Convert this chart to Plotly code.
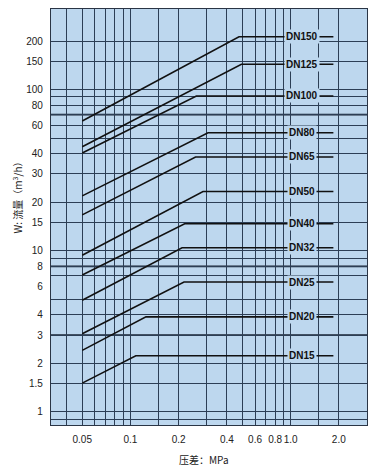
import math
import plotly.graph_objects as go

# ---- data ----
sizes = ["DN15", "DN20", "DN25", "DN32", "DN40", "DN50", "DN65", "DN80", "DN100", "DN125", "DN150"]
flow_start = [1.51, 2.41, 3.06, 4.93, 7.08, 9.38, 16.7, 21.9, 40.4, 44.2, 63.9]      # m3/h at 0.05 MPa
knee_dp = [0.108, 0.125, 0.216, 0.21, 0.218, 0.284, 0.255, 0.305, 0.258, 0.493, 0.476]  # MPa
flow_max = [2.23, 3.89, 6.4, 10.45, 14.7, 23.3, 38.2, 54.0, 91.3, 143.5, 212.9]     # m3/h
dp_start = 0.05
dp_end = 1.85
label_dp = 1.18

x_ticks = [0.05, 0.1, 0.2, 0.4, 0.6, 0.8, 1.0, 2.0]
x_ticktext = ["0.05", "0.1", "0.2", "0.4", "0.6", "0.8", "1.0", "2.0"]
y_ticks = [1, 1.5, 2, 3, 4, 6, 8, 10, 15, 20, 30, 40, 60, 80, 100, 150, 200]
y_ticktext = ["1", "1.5", "2", "3", "4", "6", "8", "10", "15", "20", "30", "40", "60", "80", "100", "150", "200"]

x_grid = [0.04, 0.05, 0.06, 0.07, 0.08, 0.09, 0.1, 0.15, 0.2, 0.3, 0.4, 0.5, 0.6, 0.7, 0.8, 0.9, 1.0, 1.5, 2.0]
y_grid = [0.9, 1, 1.5, 2, 3, 4, 5, 7, 8, 9, 10, 15, 20, 30, 40, 50, 60, 70, 80, 90, 100, 150, 200]
y_dark = [70, 3, 8]

BG = "#BDD7EE"
GRID = "#2c3e55"

fig = go.Figure()
for name, f0, kx, fm in zip(sizes, flow_start, knee_dp, flow_max):
    fig.add_trace(go.Scatter(
        x=[dp_start, kx, dp_end], y=[f0, fm, fm], mode="lines",
        line=dict(color="#111111", width=1.6), name=name, showlegend=False,
        hoverinfo="skip"))
    fig.add_annotation(
        x=math.log10(label_dp), y=math.log10(fm), xref="x", yref="y",
        text="<b>%s</b>" % name, showarrow=False, bgcolor=BG, borderpad=1,
        font=dict(family="Liberation Sans, Arial", size=10, color="#111111"))

for v in y_dark:
    fig.add_shape(type="line", xref="paper", x0=0, x1=1, yref="y", y0=v, y1=v,
                  line=dict(color="#1a2535", width=1.8), layer="below")

fig.add_annotation(
    xref="paper", yref="paper", x=-0.106, y=0.553, xanchor="center", yanchor="middle",
    textangle=-90, text="W: 流量（m<sup>3</sup>/h）", showarrow=False,
    font=dict(family="Noto Sans CJK SC", size=10, color="#222222"))
fig.add_annotation(
    xref="paper", yref="paper", x=0.483, y=-0.083, xanchor="center", yanchor="middle",
    text="压差：MPa", showarrow=False,
    font=dict(family="Noto Sans CJK SC", size=10, color="#222222"))

axis_font = dict(family="Liberation Sans, Arial", size=10, color="#222222")
fig.update_xaxes(
    type="log", range=[-1.496, 0.477], tickmode="array", tickvals=x_ticks,
    ticktext=x_ticktext, showgrid=False, ticks="", tickfont=axis_font,
    tickangle=0, automargin=False,
    ticklabelstandoff=5, zeroline=False,
    minor=dict(tickmode="array", tickvals=x_grid, showgrid=True,
               gridcolor=GRID, gridwidth=1, ticks=""),
    showline=True, mirror=True, linecolor="#2a3545", linewidth=1.2)
fig.update_yaxes(
    type="log", range=[math.log10(0.83), 2.5], tickmode="array", tickvals=y_ticks,
    ticktext=y_ticktext, showgrid=False, ticks="", tickfont=axis_font,
    automargin=False,
    ticklabelstandoff=5, zeroline=False,
    minor=dict(tickmode="array", tickvals=y_grid, showgrid=True,
               gridcolor=GRID, gridwidth=1, ticks=""),
    showline=True, mirror=True, linecolor="#2a3545", linewidth=1.2)

fig.update_layout(
    width=381, height=470, margin=dict(l=43, r=21.5, t=1, b=53),
    paper_bgcolor="white", plot_bgcolor=BG, showlegend=False)

fig.write_html("out.html")
